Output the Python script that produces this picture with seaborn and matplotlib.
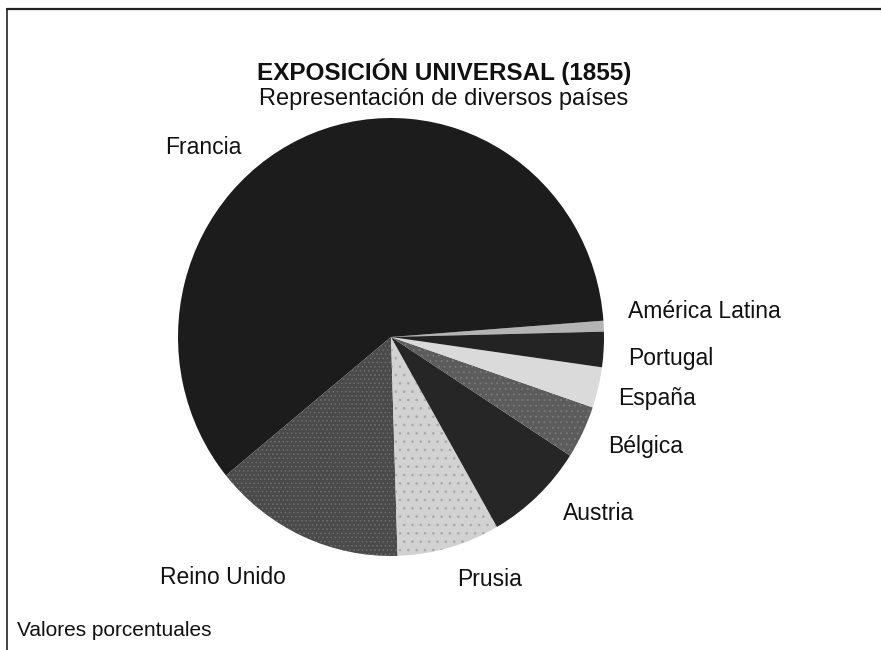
import matplotlib
matplotlib.use("Agg")
import matplotlib.pyplot as plt
import seaborn as sns
from matplotlib.lines import Line2D

# datos (valores porcentuales)
paises = ["América Latina", "Francia", "Reino Unido", "Prusia", "Austria",
          "Bélgica", "España", "Portugal"]
valores = [0.8, 59.7, 14.6, 7.8, 7.6, 3.9, 3.0, 2.6]
colores = ["#b4b4b4", "#1c1c1c", "#4a4a4a", "#d2d2d2", "#262626",
           "#5c5c5c", "#dadada", "#232323"]
tramas = [None, None, "....", "..", None, "...", None, None]
color_trama = [None, None, "#6e6e6e", "#a8a8a8", None, "#7a7a7a", None, None]

titulo = "EXPOSICIÓN UNIVERSAL (1855)"
subtitulo = "Representación de diversos países"
nota = "Valores porcentuales"

sns.set_theme(style="white")
plt.rcParams["font.family"] = ["Liberation Sans", "DejaVu Sans"]
plt.rcParams["hatch.linewidth"] = 0.6

W, H = 881, 650
fig = plt.figure(figsize=(W / 100, H / 100), dpi=100)
fig.patch.set_facecolor("white")

# pie (ligeramente eliptico como en el original)
cx, cy, rx, ry = 391, 337, 213, 219
ax = fig.add_axes([(cx - rx) / W, (H - cy - ry) / H, 2 * rx / W, 2 * ry / H])
cunas, _ = ax.pie(valores, colors=colores, startangle=1.4, counterclock=True,
                  wedgeprops=dict(linewidth=0))
for cuna, t, ct in zip(cunas, tramas, color_trama):
    if t:
        cuna.set_hatch(t)
        cuna.set_edgecolor(ct)
ax.set_aspect("auto")
ax.set_xlim(-1, 1)
ax.set_ylim(-1, 1)
ax.axis("off")

# posiciones de las etiquetas (pixeles)
pos_etiquetas = {
    "Francia": (203, 147, "center"),
    "América Latina": (628, 312, "left"),
    "Portugal": (628, 359, "left"),
    "España": (618, 399, "left"),
    "Bélgica": (608, 446, "left"),
    "Austria": (563, 513, "left"),
    "Prusia": (490, 580, "center"),
    "Reino Unido": (223, 577, "center"),
}
for p in paises:
    x, y, ha = pos_etiquetas[p]
    fig.text(x / W, 1 - y / H, p, ha=ha, va="center", fontsize=16.5, color="#111111")

fig.text(444 / W, 1 - 72 / H, titulo, ha="center", va="center",
         fontsize=17.5, fontweight="bold", color="#111111")
fig.text(444 / W, 1 - 99 / H, subtitulo, ha="center", va="center",
         fontsize=17, color="#111111")
fig.text(17 / W, 1 - 630 / H, nota, ha="left", va="center",
         fontsize=15, color="#111111")

# marco
fig.add_artist(Line2D([7 / W, 1], [1 - 9 / H, 1 - 9 / H], color="#222222", lw=1.6))
fig.add_artist(Line2D([7 / W, 7 / W], [0, 1 - 9 / H], color="#222222", lw=1.2))

fig.savefig("out.png", dpi=100)
